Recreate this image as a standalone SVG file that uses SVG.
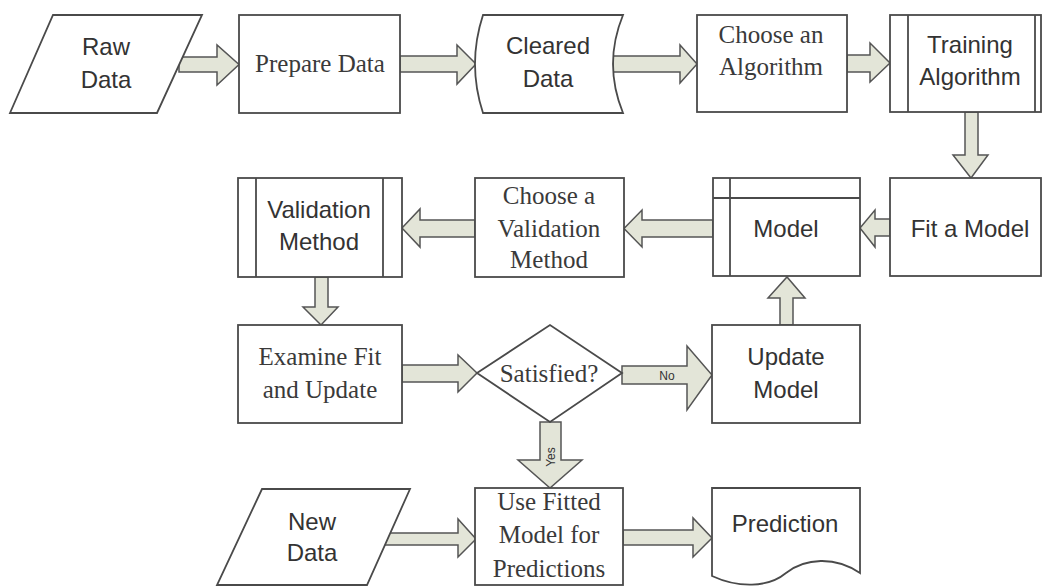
<svg xmlns="http://www.w3.org/2000/svg" width="1043" height="587" viewBox="0 0 1043 587">
<style>
.box{fill:#fff;stroke:#4a4a4a;stroke-width:1.8}
.ln{stroke:#4a4a4a;stroke-width:1.8;fill:none}
.arr{fill:#e3e5d8;stroke:#555;stroke-width:1.5;stroke-linejoin:miter}
.s{font-family:"Liberation Sans",Arial,sans-serif;font-size:24px;fill:#333;text-anchor:middle}
.r{font-family:"Liberation Serif","Times New Roman",serif;font-size:25px;fill:#3a3a3a;text-anchor:middle}
.lbl{font-family:"Liberation Sans",Arial,sans-serif;font-size:12px;fill:#333;text-anchor:middle}
</style>
<rect width="1043" height="587" fill="#fff"/>
<g id="connectors">
  <polygon class="arr" points="179,57 217,57 217,45 239,64.5 217,85 217,72 179,72"/>
  <polygon class="arr" points="400,56 457,56 457,45 476,64 457,84 457,72 400,72"/>
  <polygon class="arr" points="613,56 680,56 680,45 697,64 680,83 680,72 613,72"/>
  <polygon class="arr" points="847,55 870,55 870,43 890,63 870,82 870,72 847,72"/>
  <polygon class="arr" points="965,112 978,112 978,155 988,155 971,178 953,155 965,155"/>
  <polygon class="arr" points="890,219 875,219 875,210 860,228 875,247 875,236 890,236"/>
  <polygon class="arr" points="713,220 642,220 642,210 624,228.5 642,247 642,237 713,237"/>
  <polygon class="arr" points="475,220 420,220 420,209 402,228 420,247 420,237 475,237"/>
  <polygon class="arr" points="315,277 328,277 328,307 338,307 321,325 303,307 315,307"/>
  <polygon class="arr" points="402,365 458,365 458,355 477,373 458,392 458,382 402,382"/>
  <polygon class="arr" points="622,366 687,366 687,346 712,375 687,410 687,384 622,384"/>
  <polygon class="arr" points="780,325 780,298 768,298 787,277 805,298 793,298 793,325"/>
  <polygon class="arr" points="540,422 561,422 561,460 582,460 550,488 518,460 540,460"/>
  <polygon class="arr" points="385,533 458,533 458,519 476,539 458,557 458,545 385,545"/>
  <polygon class="arr" points="623,530 693,530 693,518 712,538 693,557 693,545 623,545"/>
  <text class="lbl" x="667" y="380">No</text>
  <text class="lbl" transform="translate(555,457) rotate(-90)">Yes</text>
</g>
<g id="raw-data">
  <polygon class="box" points="53,15 202,15 157,113 10,113"/>
  <text class="s" x="106" y="55">Raw</text>
  <text class="s" x="106" y="88">Data</text>
</g>
<g id="prepare-data">
  <rect class="box" x="239" y="15" width="161" height="98"/>
  <text class="r" x="320" y="72">Prepare Data</text>
</g>
<g id="cleared-data">
  <path class="box" d="M483,15 L623,15 Q603,64 623,113 L483,113 Q467,64 483,15 Z"/>
  <text class="s" x="548" y="54">Cleared</text>
  <text class="s" x="548" y="87">Data</text>
</g>
<g id="choose-algorithm">
  <rect class="box" x="697" y="15" width="150" height="97"/>
  <text class="r" x="771" y="43">Choose an</text>
  <text class="r" x="771" y="75">Algorithm</text>
</g>
<g id="training-algorithm">
  <rect class="box" x="890" y="15" width="151" height="97"/>
  <line class="ln" x1="908" y1="15" x2="908" y2="112"/>
  <line class="ln" x1="1035" y1="15" x2="1035" y2="112"/>
  <text class="s" x="970" y="53">Training</text>
  <text class="s" x="970" y="85">Algorithm</text>
</g>
<g id="fit-model">
  <rect class="box" x="890" y="178" width="151" height="98"/>
  <text class="s" x="970" y="237">Fit a Model</text>
</g>
<g id="model">
  <rect class="box" x="713" y="178" width="147" height="98"/>
  <line class="ln" x1="730" y1="178" x2="730" y2="276"/>
  <line class="ln" x1="713" y1="198" x2="860" y2="198"/>
  <text class="s" x="786" y="237">Model</text>
</g>
<g id="choose-validation">
  <rect class="box" x="475" y="178" width="149" height="99"/>
  <text class="r" x="549" y="204">Choose a</text>
  <text class="r" x="549" y="237">Validation</text>
  <text class="r" x="549" y="268">Method</text>
</g>
<g id="validation-method">
  <rect class="box" x="238" y="178" width="164" height="99"/>
  <line class="ln" x1="256" y1="178" x2="256" y2="277"/>
  <line class="ln" x1="383" y1="178" x2="383" y2="277"/>
  <text class="s" x="319" y="218">Validation</text>
  <text class="s" x="319" y="250">Method</text>
</g>
<g id="examine-fit">
  <rect class="box" x="238" y="325" width="164" height="98"/>
  <text class="r" x="320" y="365">Examine Fit</text>
  <text class="r" x="320" y="398">and Update</text>
</g>
<g id="satisfied">
  <polygon class="box" points="477,373 550,325 622,373 550,422"/>
  <text class="r" x="549" y="382">Satisfied?</text>
</g>
<g id="update-model">
  <rect class="box" x="712" y="325" width="148" height="98"/>
  <text class="s" x="786" y="365">Update</text>
  <text class="s" x="786" y="398">Model</text>
</g>
<g id="new-data">
  <polygon class="box" points="262,489 410,489 367,585 217,585"/>
  <text class="s" x="312" y="530">New</text>
  <text class="s" x="312" y="561">Data</text>
</g>
<g id="use-fitted-model">
  <rect class="box" x="475" y="488" width="148" height="97"/>
  <text class="r" x="549" y="510">Use Fitted</text>
  <text class="r" x="549" y="543">Model for</text>
  <text class="r" x="549" y="577">Predictions</text>
</g>
<g id="prediction">
  <path class="box" d="M712,488 H860 V573 C835,556 805,558 786,573 C768,588 738,588 712,576 Z"/>
  <text class="s" x="785" y="532">Prediction</text>
</g>
</svg>
